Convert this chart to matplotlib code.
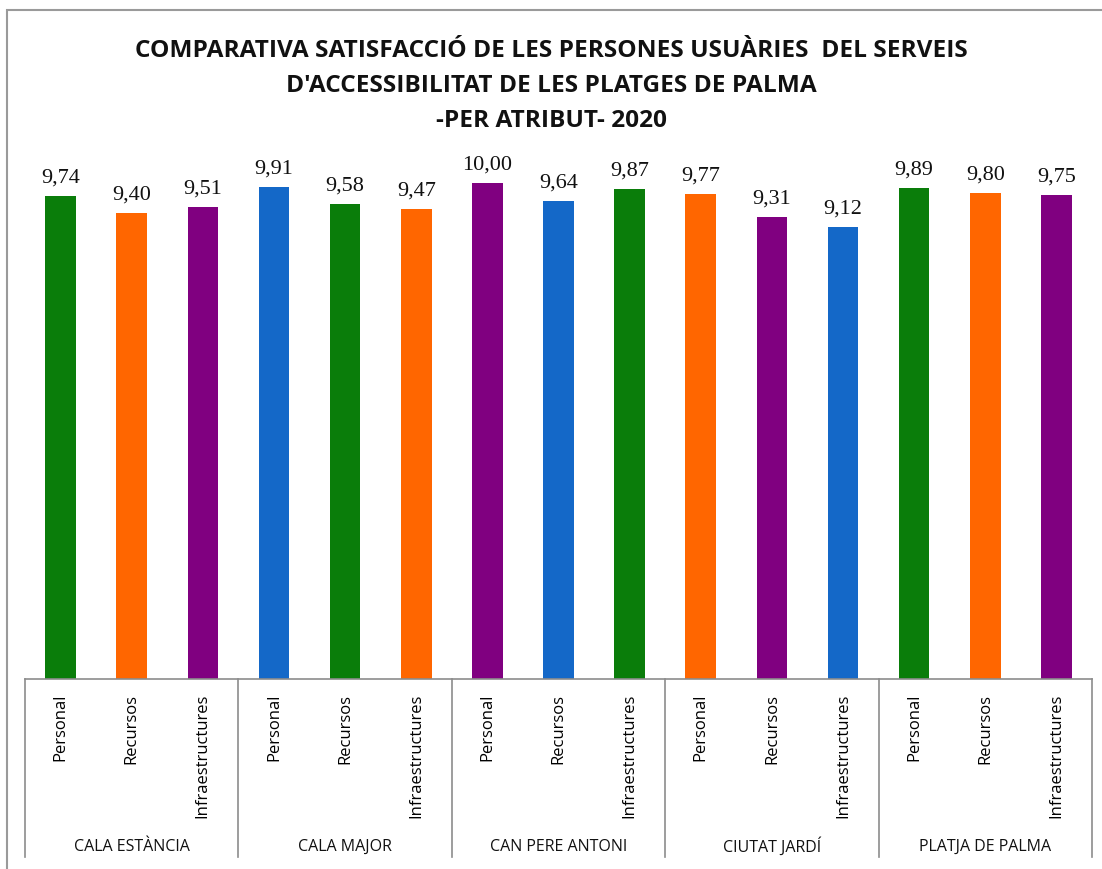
import matplotlib
matplotlib.use("Agg")
import matplotlib.pyplot as plt
import matplotlib.transforms as mtransforms
from matplotlib.patches import Rectangle
from matplotlib.lines import Line2D

beaches = ["CALA ESTÀNCIA", "CALA MAJOR", "CAN PERE ANTONI", "CIUTAT JARDÍ", "PLATJA DE PALMA"]
attributes = ["Personal", "Recursos", "Infraestructures"]
values = [9.74, 9.40, 9.51,
          9.91, 9.58, 9.47,
          10.00, 9.64, 9.87,
          9.77, 9.31, 9.12,
          9.89, 9.80, 9.75]
colors = ["#0a7d0a", "#ff6600", "#800080",
          "#1468c8", "#0a7d0a", "#ff6600",
          "#800080", "#1468c8", "#0a7d0a",
          "#ff6600", "#800080", "#1468c8",
          "#0a7d0a", "#ff6600", "#800080"]
title = ("COMPARATIVA SATISFACCIÓ DE LES PERSONES USUÀRIES  DEL SERVEIS\n"
         "D'ACCESSIBILITAT DE LES PLATGES DE PALMA\n"
         "-PER ATRIBUT- 2020")

W, H = 1102, 870
fig = plt.figure(figsize=(W / 100, H / 100), dpi=100)
fig.patch.set_facecolor("white")

# axes placed in pixel coordinates of the reference
x0, x1 = 25, 1092
base_y, top_y = 680, 134.4
ax = fig.add_axes([x0 / W, (H - base_y) / H, (x1 - x0) / W, (base_y - top_y) / H])

n = len(values)
xs = list(range(n))
ax.bar(xs, values, width=0.43, color=colors, zorder=2)
ax.set_xlim(-0.5, n - 0.5)
ax.set_ylim(0, 11)

for x, v in zip(xs, values):
    ax.annotate(f"{v:.2f}".replace(".", ","), (x, v), xytext=(0, 10.5),
                textcoords="offset points", ha="center", va="baseline",
                fontsize=16, family="Liberation Serif", color="#111111")

for s in ["top", "left", "right"]:
    ax.spines[s].set_visible(False)
ax.spines["bottom"].set_color("#8c8c8c")
ax.spines["bottom"].set_linewidth(1.2)
ax.set_yticks([])

ax.set_xticks(xs)
ax.set_xticklabels(attributes * len(beaches), rotation=90, fontsize=12,
                   family="Open Sans", va="top")
ax.tick_params(axis="x", length=0, pad=10)

# group separators and labels
trans = mtransforms.blended_transform_factory(ax.transData, ax.transAxes)
depth = -(858 - base_y) / (base_y - top_y)
for k in range(len(beaches) + 1):
    xb = 3 * k - 0.5
    ax.add_line(Line2D([xb, xb], [0, depth], transform=trans, color="#8c8c8c",
                       lw=1.2, clip_on=False))
label_y = -(847 - base_y) / (base_y - top_y)
for k, b in enumerate(beaches):
    ax.text(3 * k + 1, label_y, b, transform=trans, ha="center", va="center",
            fontsize=11.5, family="Open Sans", color="#111111")

fig.text(551 / W, 1 - 86 / H, title, ha="center", va="center", fontsize=17.6,
         fontweight="bold", family="Open Sans", linespacing=1.62, color="#111111")

# chart area border
fig.add_artist(Rectangle((7 / W, -0.05), 1.1, 1 - 11 / H + 0.05, transform=fig.transFigure,
                         fill=False, edgecolor="#9a9a9a", lw=1.5))

fig.savefig("out.png", dpi=100)
